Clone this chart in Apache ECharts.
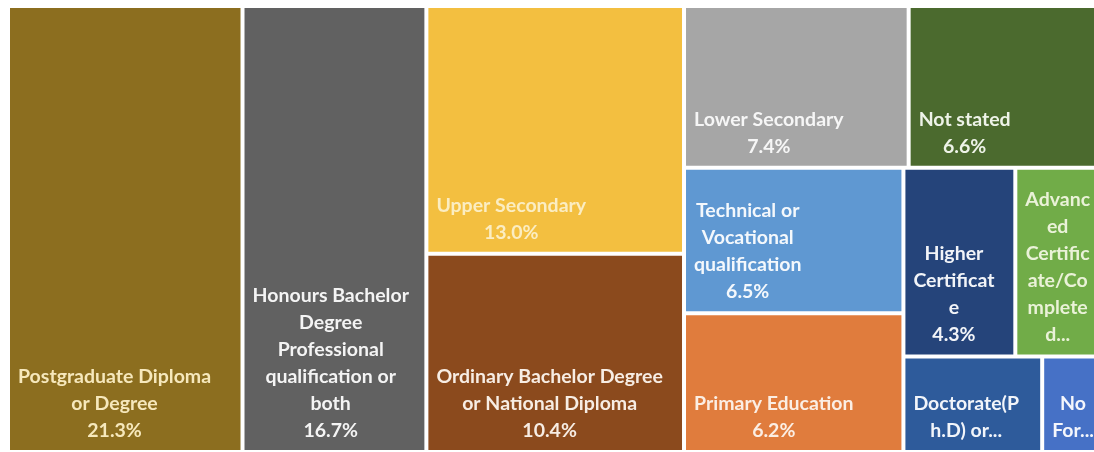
<!DOCTYPE html>
<html>
<head>
<meta charset="utf-8">
<title>Highest level of education</title>
<style>
  html, body { margin: 0; padding: 0; background: #ffffff; }
  #chart { width: 1094px; height: 452px; }
</style>
<script src="https://cdn.jsdelivr.net/npm/echarts@6/dist/echarts.min.js"></script>
</head>
<body>
<div id="chart"></div>
<script>
// Education categories and their share of the total (%)
const categories = [
  'Postgraduate Diploma or Degree',
  'Honours Bachelor Degree Professional qualification or both',
  'Upper Secondary',
  'Ordinary Bachelor Degree or National Diploma',
  'Lower Secondary',
  'Not stated',
  'Technical or Vocational qualification',
  'Primary Education',
  'Higher Certificate',
  'Advanced Certificate/Completed Higher Secondary',
  'Doctorate(Ph.D) or higher',
  'No Formal Schooling'
];
const shares = [21.3, 16.7, 13.0, 10.4, 7.4, 6.6, 6.5, 6.2, 4.3, 3.6, 2.7, 1.3];

// Tile captions as wrapped inside each tile; cut-off captions end with '...'
const tileLabels = [
  'Postgraduate Diploma\nor Degree',
  'Honours Bachelor\nDegree\nProfessional\nqualification or\nboth',
  'Upper Secondary',
  'Ordinary Bachelor Degree\nor National Diploma',
  'Lower Secondary',
  'Not stated',
  'Technical or\nVocational\nqualification',
  'Primary Education',
  'Higher\nCertificat\ne',
  'Advanc\ned\nCertific\nate/Co\nmplete\nd...',
  'Doctorate(P\nh.D) or...',
  'No\nFor...'
];

// Tile fill and caption colours, by category
const tileColors = [
  '#8C6E1F', '#616161', '#F3BF40', '#8B4A1D', '#A6A6A6', '#4B6A2E',
  '#5F98D2', '#E07C3D', '#25447A', '#71AC48', '#2E5B9B', '#4671C6'
];
const labelColors = [
  '#F6E8BC', '#F4F4F4', '#FBEDC2', '#F7EDE4', '#F6F6F6', '#EEF3E8',
  '#F4F8FC', '#FBEEE4', '#F2F4F8', '#EAF2D8', '#F2F5FA', '#F4F6FC'
];

// Nesting of the tiles (category indices); each bracket is laid out as one block
const blockTree = [0, [1, [[2, 3], [[4, 5], [[6, 7], [[8, 9], [10, 11]]]]]]];

const FONT_FAMILY = 'Lato, "Open Sans", sans-serif';
const FONT_SIZE = 19.5;
const FONT_WEIGHT = 'bold';
const LINE_H = 27;
const PAD_LEFT = 8;
const PAD_BOTTOM = 6;

const measureCtx = document.createElement('canvas').getContext('2d');
measureCtx.font = FONT_WEIGHT + ' ' + FONT_SIZE + 'px ' + FONT_FAMILY;
function textWidth(s) { return measureCtx.measureText(s).width; }

let groupCount = 0;
function buildNode(entry) {
  if (Array.isArray(entry)) {
    groupCount += 1;
    return { name: 'block-' + groupCount, children: entry.map(buildNode) };
  }
  return {
    name: categories[entry],
    value: shares[entry],
    itemStyle: { color: tileColors[entry] },
    label: { color: labelColors[entry] }
  };
}
const seriesData = blockTree.map(buildNode);

const chart = echarts.init(document.getElementById('chart'), null, { renderer: 'canvas' });
chart.setOption({
  animation: false,
  tooltip: { show: false },
  series: [{
    type: 'treemap',
    left: 10,
    top: 8,
    width: 1097,
    height: 442,
    squareRatio: 1,
    sort: false,
    roam: false,
    nodeClick: false,
    breadcrumb: { show: false },
    itemStyle: { borderWidth: 0, gapWidth: 4, borderColor: '#ffffff', borderRadius: 0 },
    upperLabel: { show: false },
    emphasis: { disabled: true },
    label: {
      show: true,
      padding: 0,
      fontFamily: FONT_FAMILY,
      fontSize: FONT_SIZE,
      fontWeight: FONT_WEIGHT,
      lineHeight: LINE_H,
      color: '#ffffff',
      textBorderWidth: 0,
      overflow: 'truncate',
      formatter: function (p) {
        const i = categories.indexOf(p.name);
        const txt = tileLabels[i];
        return txt.endsWith('...') ? txt : txt + '\n' + shares[i].toFixed(1) + '%';
      }
    },
    // caption block sits in the lower-left corner, lines centred on each other
    labelLayout: function (p) {
      const lines = String(p.text).split('\n');
      let w = 0;
      lines.forEach(function (s) { w = Math.max(w, textWidth(s)); });
      const r = p.rect;
      return {
        x: r.x + PAD_LEFT + w / 2,
        y: r.y + r.height - PAD_BOTTOM - lines.length * LINE_H,
        align: 'center',
        verticalAlign: 'top'
      };
    },
    data: seriesData
  }]
});
</script>
</body>
</html>
